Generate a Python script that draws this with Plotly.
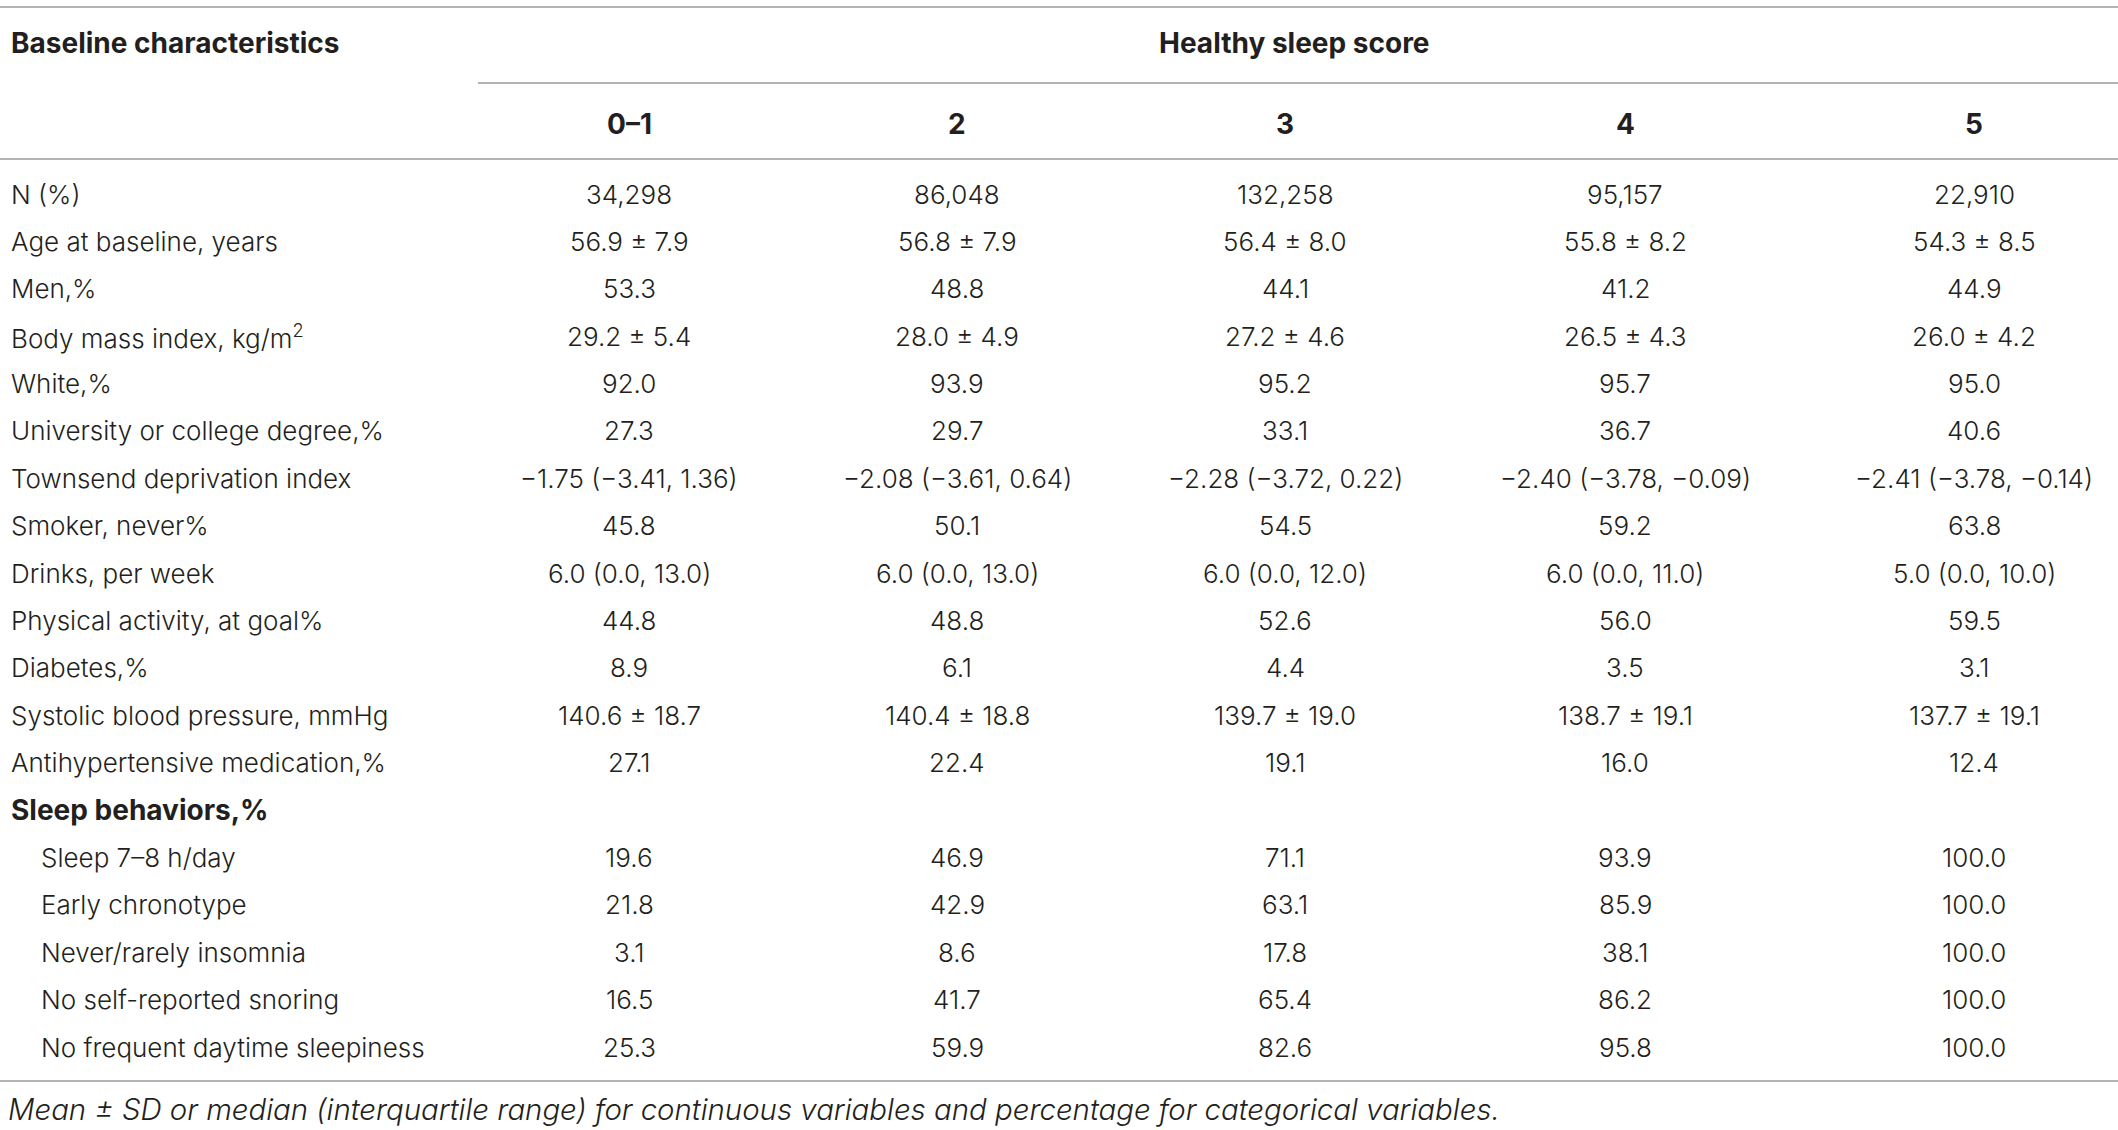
import plotly.graph_objects as go

# ---------------- data ----------------
score_groups = ["0–1", "2", "3", "4", "5"]

row_labels = [
    "N (%)",
    "Age at baseline, years",
    "Men,%",
    "Body mass index, kg/m<sup>2</sup>",
    "White,%",
    "University or college degree,%",
    "Townsend deprivation index",
    "Smoker, never%",
    "Drinks, per week",
    "Physical activity, at goal%",
    "Diabetes,%",
    "Systolic blood pressure, mmHg",
    "Antihypertensive medication,%",
    "Sleep behaviors,%",
    "Sleep 7–8 h/day",
    "Early chronotype",
    "Never/rarely insomnia",
    "No self-reported snoring",
    "No frequent daytime sleepiness",
]
section_rows = ["Sleep behaviors,%"]
indented_rows = ["Sleep 7–8 h/day", "Early chronotype", "Never/rarely insomnia",
                 "No self-reported snoring", "No frequent daytime sleepiness"]

col_0_1 = ["34,298", "56.9 ± 7.9", "53.3", "29.2 ± 5.4", "92.0", "27.3",
           "−1.75 (−3.41, 1.36)", "45.8", "6.0 (0.0, 13.0)", "44.8", "8.9",
           "140.6 ± 18.7", "27.1", "", "19.6", "21.8", "3.1", "16.5", "25.3"]
col_2 = ["86,048", "56.8 ± 7.9", "48.8", "28.0 ± 4.9", "93.9", "29.7",
         "−2.08 (−3.61, 0.64)", "50.1", "6.0 (0.0, 13.0)", "48.8", "6.1",
         "140.4 ± 18.8", "22.4", "", "46.9", "42.9", "8.6", "41.7", "59.9"]
col_3 = ["132,258", "56.4 ± 8.0", "44.1", "27.2 ± 4.6", "95.2", "33.1",
         "−2.28 (−3.72, 0.22)", "54.5", "6.0 (0.0, 12.0)", "52.6", "4.4",
         "139.7 ± 19.0", "19.1", "", "71.1", "63.1", "17.8", "65.4", "82.6"]
col_4 = ["95,157", "55.8 ± 8.2", "41.2", "26.5 ± 4.3", "95.7", "36.7",
         "−2.40 (−3.78, −0.09)", "59.2", "6.0 (0.0, 11.0)", "56.0", "3.5",
         "138.7 ± 19.1", "16.0", "", "93.9", "85.9", "38.1", "86.2", "95.8"]
col_5 = ["22,910", "54.3 ± 8.5", "44.9", "26.0 ± 4.2", "95.0", "40.6",
         "−2.41 (−3.78, −0.14)", "63.8", "5.0 (0.0, 10.0)", "59.5", "3.1",
         "137.7 ± 19.1", "12.4", "", "100.0", "100.0", "100.0", "100.0", "100.0"]
columns = [col_0_1, col_2, col_3, col_4, col_5]

header_left = "Baseline characteristics"
header_span = "Healthy sleep score"
footnote = "Mean ± SD or median (interquartile range) for continuous variables and percentage for categorical variables."

# ---------------- layout / style ----------------
W, H = 2118, 1130
FONT = "Inter Light, Inter"
BOLD_FONT = "Inter"
TXT = "#231f20"
LINE = "#b3b3b3"
FS = 26
FS_BOLD = 28
FS_NOTE = 29.4

col_x = [629, 957, 1285, 1625, 1974]   # column centres (px on x axis)
span_x = 1294                          # centre of the spanning header
label_x = 9
indent_x = 39

row0_px, step_px = 194, 47.39
def r(px):  # pixel height -> row-unit coordinate
    return (px - row0_px) / step_px

fig = go.Figure()
ann = []

def add(text, x, y, anchor="center", bold=False, size=None):
    fam = BOLD_FONT if bold else FONT
    sz = size if size else (FS_BOLD if bold else FS)
    ann.append(dict(text=text, x=x, y=y, xref="x", yref="y", showarrow=False,
                    xanchor=anchor, yanchor="middle",
                    font=dict(family=fam, size=sz, color=TXT,
                              weight=700 if bold else 300)))

# headers
add(header_left, label_x, r(43), "left", True)
add(header_span, span_x, r(43), "center", True)
for g, cx in zip(score_groups, col_x):
    add(g, cx, r(124), "center", True)

# body rows
for i, lab in enumerate(row_labels):
    if lab in section_rows:
        add(lab, label_x, i, "left", True)
    elif lab in indented_rows:
        add(lab, indent_x, i, "left")
    else:
        add(lab, label_x, i, "left")
    for col, cx in zip(columns, col_x):
        if col[i]:
            add(col[i], cx, i, "center")

add("<i>" + footnote + "</i>", label_x - 3, r(1109), "left", size=FS_NOTE)

shapes = [
    dict(type="line", xref="x", yref="y", x0=0, x1=W, y0=r(7), y1=r(7),
         line=dict(color=LINE, width=2)),
    dict(type="line", xref="x", yref="y", x0=478, x1=W, y0=r(83), y1=r(83),
         line=dict(color=LINE, width=2)),
    dict(type="line", xref="x", yref="y", x0=0, x1=W, y0=r(159), y1=r(159),
         line=dict(color=LINE, width=2)),
    dict(type="line", xref="x", yref="y", x0=0, x1=W, y0=r(1081), y1=r(1081),
         line=dict(color=LINE, width=2)),
]

fig.update_layout(
    width=W, height=H, autosize=False,
    margin=dict(l=0, r=0, t=0, b=0),
    paper_bgcolor="white", plot_bgcolor="white",
    annotations=ann, shapes=shapes,
    xaxis=dict(range=[0, W], visible=False, fixedrange=True),
    yaxis=dict(range=[r(H), r(0)], visible=False, fixedrange=True),
    showlegend=False,
)

fig.write_html("out.html", config={"displayModeBar": False},
               post_script="document.body.style.margin='0px';document.body.style.overflow='hidden';")
